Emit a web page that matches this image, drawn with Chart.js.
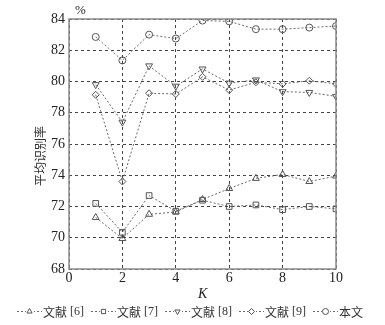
<!DOCTYPE html>
<html>
<head>
<meta charset="utf-8">
<script src="https://cdn.jsdelivr.net/npm/chart.js@4.4.0/dist/chart.umd.min.js"></script>
<style>
    html, body { margin: 0; padding: 0; background: #fff; }
    #wrap { position: relative; width: 385px; height: 325px; }
    #chart { position: absolute; left: 0; top: 0; }
    .lbl { position: absolute; color: #222; font-family: 'Liberation Serif', 'Times New Roman', serif; }
    #ytitle { left: -10px; top: 148px; width: 100px; height: 16px; line-height: 16px; text-align: center;
              transform: rotate(-90deg); font-family: 'Noto Sans CJK SC', sans-serif; font-size: 12px; color: #333; }
    #legend { position: absolute; left: 17px; top: 302px; height: 18px; display: flex; align-items: center;
              font-size: 12px; color: #333; white-space: nowrap; }
    #legend .item { display: flex; align-items: center; margin-right: 7px; }
    #legend canvas { margin-right: 1px; }
    #legend .cn { font-family: 'Noto Sans CJK SC', sans-serif; }
    #legend .ref { font-family: 'Liberation Serif', serif; font-size: 12px; margin-left: 3px; }
</style>
</head>
<body>
<div id="wrap">
    <canvas id="chart" width="385" height="325"></canvas>
    <div class="lbl" style="left:75px;top:2px;font-size:13px;">%</div>
    <div class="lbl" id="ytitle">平均识别率</div>
    <div class="lbl" style="left:198px;top:286px;font-size:14px;font-style:italic;">K</div>
    <div id="legend"></div>
</div>
<script>
document.addEventListener('DOMContentLoaded', () => {
    // -----------------------------
    // Data
    // -----------------------------
    const kValues = [1, 2, 3, 4, 5, 6, 7, 8, 9, 10];
    const yTicks = [68, 70, 72, 74, 76, 78, 80, 82, 84];
    const xTicks = [0, 2, 4, 6, 8, 10];

    const ref6 = [71.3, 69.95, 71.5, 71.65, 72.45, 73.15, 73.8, 74.05, 73.6, 73.95];
    const ref7 = [72.2, 70.35, 72.7, 71.7, 72.4, 72.0, 72.1, 71.8, 72.0, 71.85];
    const ref8 = [79.8, 77.4, 81.0, 79.7, 80.8, 79.9, 80.1, 79.35, 79.3, 79.05];
    const ref9 = [79.15, 73.6, 79.25, 79.2, 80.3, 79.45, 79.95, 79.85, 80.05, 79.85];
    const ours = [82.85, 81.35, 83.0, 82.75, 83.9, 83.85, 83.35, 83.35, 83.45, 83.55];

    const seriesNames = ['文献', '文献', '文献', '文献', '本文'];
    const seriesRefs = ['[6]', '[7]', '[8]', '[9]', ''];

    // -----------------------------
    // Styling
    // -----------------------------
    const lineColor = '#6a6a6a';
    const markerColor = '#555';
    const gridColor = '#444';
    const boxColor = '#8a8a8a';
    const tickFont = {family: "'Liberation Serif', serif", size: 14};

    const markers = [
        {style: 'triangle', rotation: 0, radius: 4},
        {style: 'rect', rotation: 0, radius: 4},
        {style: 'triangle', rotation: 180, radius: 4},
        {style: 'rectRot', rotation: 0, radius: 3.5},
        {style: 'circle', rotation: 0, radius: 3.5}
    ];

    const allData = [ref6, ref7, ref8, ref9, ours];

    const datasets = allData.map((vals, i) => ({
        label: seriesNames[i] + ' ' + seriesRefs[i],
        data: vals.map((v, j) => ({x: kValues[j], y: v})),
        borderColor: lineColor,
        borderWidth: 1,
        borderDash: [2, 2],
        pointStyle: markers[i].style,
        rotation: markers[i].rotation,
        pointRadius: markers[i].radius,
        pointBorderColor: markerColor,
        pointBorderWidth: 1,
        pointBackgroundColor: 'rgba(255,255,255,0)',
        fill: false,
        tension: 0
    }));

    // -----------------------------
    // Box around plot area
    // -----------------------------
    const boxPlugin = {
        id: 'box',
        afterDraw(chart) {
            const {ctx, chartArea: a} = chart;
            ctx.save();
            ctx.strokeStyle = boxColor;
            ctx.lineWidth = 1.5;
            ctx.setLineDash([]);
            ctx.strokeRect(a.left, a.top, a.right - a.left, a.bottom - a.top);
            ctx.restore();
        }
    };

    new Chart(document.getElementById('chart'), {
        type: 'line',
        data: {datasets},
        plugins: [boxPlugin],
        options: {
            responsive: false,
            animation: false,
            layout: {padding: {top: 19, right: 49, left: 0, bottom: 0}},
            plugins: {legend: {display: false}, tooltip: {enabled: false}},
            scales: {
                x: {
                    type: 'linear',
                    min: 0, max: 10,
                    afterBuildTicks: s => { s.ticks = xTicks.map(v => ({value: v})); },
                    afterFit: s => { s.height = 56; },
                    ticks: {color: '#222', font: tickFont, padding: 1, maxRotation: 0},
                    grid: {color: gridColor, lineWidth: 1, drawTicks: false},
                    border: {display: false, dash: [3, 3]}
                },
                y: {
                    type: 'linear',
                    min: 68, max: 84,
                    afterBuildTicks: s => { s.ticks = yTicks.map(v => ({value: v})); },
                    afterFit: s => { s.width = 69; },
                    ticks: {color: '#222', font: tickFont, padding: 4},
                    grid: {color: gridColor, lineWidth: 1, drawTicks: false},
                    border: {display: false, dash: [3, 3]}
                }
            }
        }
    });

    // -----------------------------
    // HTML legend
    // -----------------------------
    const legend = document.getElementById('legend');
    allData.forEach((_, i) => {
        const item = document.createElement('div');
        item.className = 'item';
        const c = document.createElement('canvas');
        c.width = 25; c.height = 12;
        const g = c.getContext('2d');
        g.strokeStyle = lineColor;
        g.lineWidth = 1;
        g.setLineDash([2, 2]);
        g.beginPath(); g.moveTo(0, 6.5); g.lineTo(25, 6.5); g.stroke();
        g.setLineDash([]);
        g.fillStyle = '#fff';
        g.fillRect(9, 2, 8, 9);
        g.strokeStyle = markerColor;
        Chart.helpers.drawPoint(g, {pointStyle: markers[i].style, rotation: markers[i].rotation,
            radius: 3, borderWidth: 1}, 12.5, 6.5);
        item.appendChild(c);
        const t = document.createElement('span');
        t.className = 'cn';
        t.textContent = seriesNames[i];
        item.appendChild(t);
        if (seriesRefs[i]) {
            const r = document.createElement('span');
            r.className = 'ref';
            r.textContent = seriesRefs[i];
            item.appendChild(r);
        }
        legend.appendChild(item);
    });
});
</script>
</body>
</html>
